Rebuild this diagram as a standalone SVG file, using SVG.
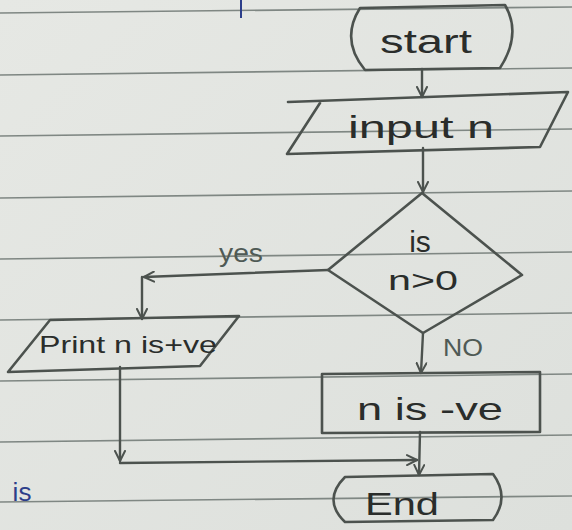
<svg xmlns="http://www.w3.org/2000/svg" width="572" height="530" viewBox="0 0 572 530">
<defs>
<marker id="arr" viewBox="0 0 12 12" refX="11" refY="6" markerWidth="12" markerHeight="12" markerUnits="userSpaceOnUse" orient="auto">
<path d="M1,1 L11,6 L1,11" fill="none" stroke="#4c524e" stroke-width="2" stroke-linecap="round" stroke-linejoin="round"/>
</marker>
<linearGradient id="paper" x1="0" y1="0" x2="1" y2="1">
<stop offset="0" stop-color="#e6e8e4"/>
<stop offset="1" stop-color="#dde0dc"/>
</linearGradient>
</defs>
<style>
.rule{stroke:#7f8783;stroke-width:1.6;fill:none}
.shape{fill:none;stroke:#4c524e;stroke-width:2.6;stroke-linecap:round;stroke-linejoin:round}
.conn{fill:none;stroke:#4c524e;stroke-width:2.4;stroke-linecap:round}
.t{font-family:"Liberation Sans","DejaVu Sans",sans-serif;fill:#2a2d2b;text-anchor:middle}
.lbl{font-family:"Liberation Sans","DejaVu Sans",sans-serif;fill:#4f5a55;text-anchor:middle}
</style>
<rect width="572" height="530" fill="url(#paper)"/>
<g id="rules">
<line class="rule" x1="0" y1="13" x2="572" y2="7"/>
<line class="rule" x1="0" y1="75" x2="572" y2="68"/>
<line class="rule" x1="0" y1="136" x2="572" y2="129"/>
<line class="rule" x1="0" y1="198" x2="572" y2="191"/>
<line class="rule" x1="0" y1="259" x2="572" y2="252"/>
<line class="rule" x1="0" y1="320" x2="572" y2="313"/>
<line class="rule" x1="0" y1="381" x2="572" y2="374"/>
<line class="rule" x1="0" y1="442" x2="572" y2="435"/>
<line class="rule" x1="0" y1="502" x2="572" y2="496"/>
</g>
<line x1="241" y1="0" x2="241" y2="18" stroke="#2c3e8a" stroke-width="2"/>
<g id="connectors">
<path class="conn" d="M422,69 L422,97" marker-end="url(#arr)"/>
<path class="conn" d="M423,148 L423,192" marker-end="url(#arr)"/>
<path class="conn" d="M328,270 L144,277" marker-end="url(#arr)"/>
<path class="conn" d="M142,277 L142,319" marker-end="url(#arr)"/>
<path class="conn" d="M423,333 L421,373" marker-end="url(#arr)"/>
<path class="conn" d="M120,367 L120,461" marker-end="url(#arr)"/>
<path class="conn" d="M120,463 L417,460" marker-end="url(#arr)"/>
<path class="conn" d="M420,432 L419,475" marker-end="url(#arr)"/>
</g>
<g id="start">
<path class="shape" d="M360,8 L505,5 Q522,34 500,68 L365,70 Q340,40 360,8 Z"/>
<text class="t" x="426" y="53" font-size="34" textLength="92" lengthAdjust="spacingAndGlyphs">start</text>
</g>
<g id="input">
<path class="shape" d="M288,102 L568,92 L540,147 L287,154 L320,103"/>
<text class="t" x="421" y="138" font-size="32" textLength="146" lengthAdjust="spacingAndGlyphs">input n</text>
</g>
<g id="decision">
<path class="shape" d="M422,193 L522,275 L423,333 L328,270 Z"/>
<text class="t" x="420" y="252" font-size="30">is</text>
<text class="t" x="423" y="290" font-size="28" textLength="70" lengthAdjust="spacingAndGlyphs">n&gt;0</text>
<text class="lbl" x="241" y="262" font-size="26" textLength="44" lengthAdjust="spacingAndGlyphs">yes</text>
<text class="lbl" x="463" y="356" font-size="24" textLength="40" lengthAdjust="spacingAndGlyphs">NO</text>
</g>
<g id="print">
<path class="shape" d="M50,320 L239,316 L200,366 L8,372 Z"/>
<text class="t" x="128" y="353" font-size="24" textLength="178" lengthAdjust="spacingAndGlyphs">Print n is+ve</text>
</g>
<g id="negative">
<path class="shape" d="M322,374 L540,372 L540,432 L322,433 Z"/>
<text class="t" x="430" y="420" font-size="32" textLength="146" lengthAdjust="spacingAndGlyphs">n is -ve</text>
</g>
<g id="end">
<path class="shape" d="M345,477 L493,474 Q510,497 493,520 L345,522 Q322,500 345,477 Z"/>
<text class="t" x="402" y="515" font-size="32" textLength="74" lengthAdjust="spacingAndGlyphs">End</text>
</g>
<text x="22" y="501" font-size="26" font-family="Liberation Sans, DejaVu Sans, sans-serif" fill="#2c3e8a" text-anchor="middle">is</text>
</svg>
